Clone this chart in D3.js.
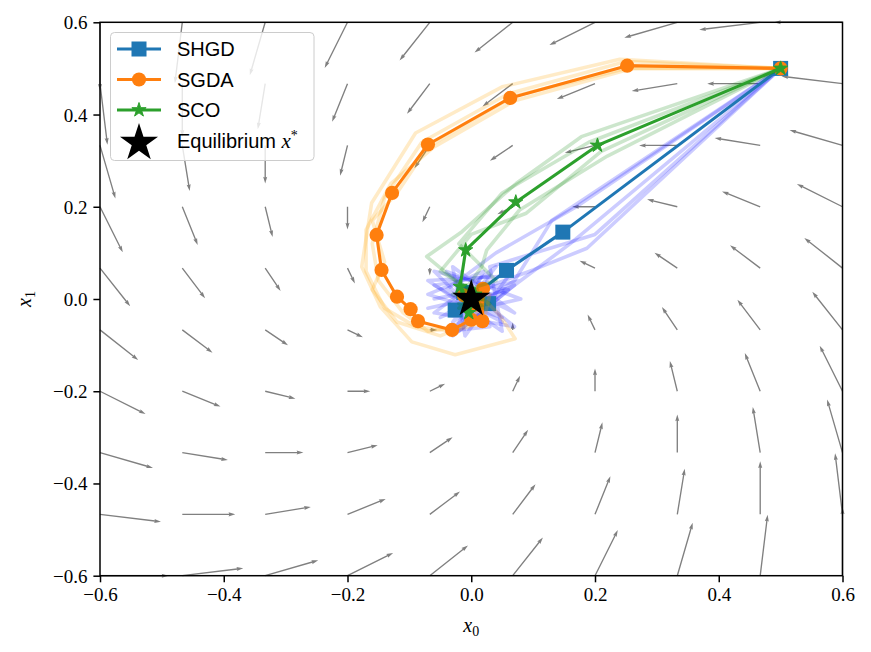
<!DOCTYPE html>
<html>
<head>
<meta charset="utf-8">
<script src="https://cdn.jsdelivr.net/npm/d3@7"></script>
<style>
  body { margin: 0; background: #fff; }
</style>
</head>
<body>
<div id="chart"></div>
<script>
// ---- data ----
var ticks = [-0.6, -0.4, -0.2, 0.0, 0.2, 0.4, 0.6];

// quiver grid (tails), 10 x 10
var gridX = [-0.6, -0.467, -0.333, -0.2, -0.067, 0.067, 0.2, 0.333, 0.467, 0.6];
var gridY = [-0.6, -0.467, -0.333, -0.2, -0.067, 0.067, 0.2, 0.333, 0.467, 0.6];

// field components, one row per gridY value (bottom to top), columns follow gridX
var fieldU = [
  [ 1.20,  1.07,  0.93,  0.80,  0.67,  0.53,  0.40,  0.27,  0.13,  0.00],
  [ 1.07,  0.93,  0.80,  0.67,  0.53,  0.40,  0.27,  0.13,  0.00, -0.13],
  [ 0.93,  0.80,  0.67,  0.53,  0.40,  0.27,  0.13,  0.00, -0.13, -0.27],
  [ 0.80,  0.67,  0.53,  0.40,  0.27,  0.13,  0.00, -0.13, -0.27, -0.40],
  [ 0.67,  0.53,  0.40,  0.27,  0.13,  0.00, -0.13, -0.27, -0.40, -0.53],
  [ 0.53,  0.40,  0.27,  0.13,  0.00, -0.13, -0.27, -0.40, -0.53, -0.67],
  [ 0.40,  0.27,  0.13,  0.00, -0.13, -0.27, -0.40, -0.53, -0.67, -0.80],
  [ 0.27,  0.13,  0.00, -0.13, -0.27, -0.40, -0.53, -0.67, -0.80, -0.93],
  [ 0.13,  0.00, -0.13, -0.27, -0.40, -0.53, -0.67, -0.80, -0.93, -1.07],
  [ 0.00, -0.13, -0.27, -0.40, -0.53, -0.67, -0.80, -0.93, -1.07, -1.20]
];
var fieldV = [
  [ 0.00,  0.13,  0.27,  0.40,  0.53,  0.67,  0.80,  0.93,  1.07,  1.20],
  [-0.13,  0.00,  0.13,  0.27,  0.40,  0.53,  0.67,  0.80,  0.93,  1.07],
  [-0.27, -0.13,  0.00,  0.13,  0.27,  0.40,  0.53,  0.67,  0.80,  0.93],
  [-0.40, -0.27, -0.13,  0.00,  0.13,  0.27,  0.40,  0.53,  0.67,  0.80],
  [-0.53, -0.40, -0.27, -0.13,  0.00,  0.13,  0.27,  0.40,  0.53,  0.67],
  [-0.67, -0.53, -0.40, -0.27, -0.13,  0.00,  0.13,  0.27,  0.40,  0.53],
  [-0.80, -0.67, -0.53, -0.40, -0.27, -0.13,  0.00,  0.13,  0.27,  0.40],
  [-0.93, -0.80, -0.67, -0.53, -0.40, -0.27, -0.13,  0.00,  0.13,  0.27],
  [-1.07, -0.93, -0.80, -0.67, -0.53, -0.40, -0.27, -0.13,  0.00,  0.13],
  [-1.20, -1.07, -0.93, -0.80, -0.67, -0.53, -0.40, -0.27, -0.13,  0.00]
];

// mean trajectories
var shgdMain = [[0.5, 0.5], [0.148, 0.145], [0.057, 0.062], [-0.026, -0.024], [0.028, -0.010],
  [-0.012, 0.014], [0.010, -0.008], [0.0, 0.0]];
var sgdaMain = [[0.5, 0.5], [0.252, 0.506], [0.063, 0.436], [-0.070, 0.335], [-0.128, 0.230],
  [-0.153, 0.139], [-0.145, 0.063], [-0.120, 0.005], [-0.098, -0.022], [-0.086, -0.048],
  [-0.031, -0.067], [0.000, -0.045], [0.018, -0.048], [0.019, 0.022], [-0.012, 0.008],
  [0.006, -0.012], [0.0, 0.0]];
var scoMain = [[0.5, 0.5], [0.204, 0.333], [0.072, 0.210], [-0.009, 0.106], [-0.018, 0.027],
  [-0.004, -0.030], [0.006, 0.010], [0.0, 0.0]];

// individual noisy runs
var shgdRuns = [
  [[0.5, 0.5], [0.17, 0.20], [0.04, 0.10], [-0.04, 0.02], [0.05, -0.05], [-0.06, 0.03], [0.03, 0.05], [-0.02, -0.07], [0.06, 0.02], [-0.07, -0.02], [0.0, 0.0]],
  [[0.5, 0.5], [0.187, 0.110], [0.100, 0.063], [0.041, 0.034], [-0.05, -0.04], [0.07, 0.03], [-0.03, -0.08], [0.02, 0.06], [-0.07, 0.01], [0.05, -0.04], [0.0, 0.0]],
  [[0.5, 0.5], [0.13, 0.17], [0.07, 0.04], [-0.03, -0.05], [0.04, 0.07], [-0.06, -0.03], [0.07, -0.06], [-0.04, 0.06], [0.08, 0.00], [-0.02, -0.03]],
  [[0.5, 0.5], [0.20, 0.14], [0.03, 0.07], [0.05, -0.07], [-0.07, 0.04], [0.06, 0.05], [-0.01, -0.08], [-0.03, 0.07], [0.07, -0.03], [0.01, 0.01]],
  [[0.5, 0.5], [0.16, 0.12], [0.06, 0.02], [-0.06, 0.06], [0.03, -0.06], [-0.04, -0.07], [0.08, 0.04], [-0.06, 0.00], [0.02, 0.02]]
];
var sgdaRuns = [
  [[0.5, 0.5], [0.24, 0.52], [0.05, 0.46], [-0.09, 0.36], [-0.161, 0.208], [-0.177, 0.070], [-0.147, -0.017], [-0.096, -0.093], [-0.026, -0.121], [0.071, -0.086], [0.046, -0.035], [0.02, 0.0], [0.0, -0.01]],
  [[0.5, 0.5], [0.26, 0.50], [0.07, 0.43], [-0.06, 0.33], [-0.13, 0.25], [-0.17, 0.15], [-0.17, 0.06], [-0.14, -0.02], [-0.09, -0.06], [-0.03, -0.07], [0.02, -0.05], [0.03, 0.01], [0.0, 0.0]],
  [[0.5, 0.5], [0.25, 0.515], [0.06, 0.445], [-0.08, 0.34], [-0.14, 0.22], [-0.16, 0.12], [-0.15, 0.04], [-0.11, -0.03], [-0.07, -0.07], [-0.02, -0.06], [0.01, -0.03], [0.0, 0.0]],
  [[0.5, 0.5], [0.25, 0.50], [0.07, 0.44], [-0.07, 0.33], [-0.12, 0.23], [-0.16, 0.17], [-0.14, 0.08], [-0.16, 0.02], [-0.12, -0.05], [-0.05, -0.08], [0.02, -0.04], [0.01, 0.01]]
];
var scoRuns = [
  [[0.5, 0.5], [0.178, 0.352], [0.073, 0.251], [-0.015, 0.146], [-0.072, 0.092], [-0.026, 0.041], [0.02, 0.0], [-0.02, -0.01], [0.01, 0.02], [0.0, 0.0]],
  [[0.5, 0.5], [0.22, 0.31], [0.078, 0.193], [0.025, 0.106], [0.017, 0.07], [-0.01, 0.02], [0.03, -0.01], [-0.01, -0.02], [0.0, 0.0]],
  [[0.5, 0.5], [0.19, 0.34], [0.05, 0.23], [-0.02, 0.12], [0.04, 0.04], [-0.03, 0.01], [0.02, -0.02], [0.0, 0.01]],
  [[0.5, 0.5], [0.21, 0.32], [0.089, 0.186], [0.00, 0.14], [-0.05, 0.06], [0.01, 0.01], [-0.02, -0.02], [0.02, 0.01], [0.0, 0.0]]
];

var equilibrium = [0.0, 0.0];

// ---- layout ----
var W = 871, H = 652;
var margin = { top: 22.3, right: 28.5, bottom: 76.3, left: 100 };
var width = W - margin.left - margin.right,
    height = H - margin.top - margin.bottom;

var svg = d3.select("#chart").append("svg")
    .attr("width", W)
    .attr("height", H);

var canvas = svg.append("g")
    .attr("transform", "translate(" + margin.left + "," + margin.top + ")");

var xScale = d3.scaleLinear().domain([-0.6, 0.6]).range([0, width]);
var yScale = d3.scaleLinear().domain([-0.6, 0.6]).range([height, 0]);
var arrowScale = d3.scaleLinear().domain([0, 1]).range([0, 57]);

var serif = "'Liberation Serif', 'DejaVu Serif', serif";
var sans = "'Liberation Sans', Arial, sans-serif";

// ---- quiver ----
function arrowPath(x0, y0, dx, dy) {
    var L = Math.hypot(dx, dy);
    if (L < 0.5) return "";
    var w = 1.35, hl = 5 * w, hal = 4.5 * w, hw = 3 * w;
    if (L < hl) { var s = L / hl; w *= s; hl *= s; hal *= s; hw *= s; }
    var ux = dx / L, uy = dy / L, nx = -uy, ny = ux;
    var pts = [[0, -w / 2], [L - hal, -w / 2], [L - hl, -hw / 2], [L, 0],
               [L - hl, hw / 2], [L - hal, w / 2], [0, w / 2]];
    return "M" + pts.map(function (p) {
        return (x0 + ux * p[0] + nx * p[1]).toFixed(2) + "," + (y0 + uy * p[0] + ny * p[1]).toFixed(2);
    }).join("L") + "Z";
}

var arrows = [];
gridY.forEach(function (gy, j) {
    gridX.forEach(function (gx, i) {
        arrows.push({ x: gx, y: gy, u: fieldU[j][i], v: fieldV[j][i] });
    });
});

canvas.append("g")
    .attr("class", "quiver")
    .selectAll("path")
    .data(arrows)
    .enter()
    .append("path")
    .attr("d", function (d) {
        return arrowPath(xScale(d.x), yScale(d.y), arrowScale(d.u), -arrowScale(d.v));
    })
    .attr("fill", "#808080");

// ---- trajectories ----
var line = d3.line()
    .x(function (d) { return xScale(d[0]); })
    .y(function (d) { return yScale(d[1]); });

function starPath(R) {
    var r = R * 0.381966, pts = [];
    for (var k = 0; k < 10; k++) {
        var a = -Math.PI / 2 + k * Math.PI / 5, rr = (k % 2 === 0) ? R : r;
        pts.push([rr * Math.cos(a), rr * Math.sin(a)]);
    }
    return "M" + pts.map(function (p) { return p[0].toFixed(2) + "," + p[1].toFixed(2); }).join("L") + "Z";
}

function drawRuns(runs, color, op) {
    canvas.append("g")
        .selectAll("path")
        .data(runs)
        .enter()
        .append("path")
        .attr("d", line)
        .attr("fill", "none")
        .attr("stroke", color)
        .attr("stroke-opacity", op)
        .attr("stroke-width", 3.6)
        .attr("stroke-linejoin", "round");
}

function drawMain(data, color, marker) {
    var g = canvas.append("g");
    g.append("path")
        .datum(data)
        .attr("d", line)
        .attr("fill", "none")
        .attr("stroke", color)
        .attr("stroke-width", 3.1)
        .attr("stroke-linejoin", "round");
    var m = g.selectAll(".mk")
        .data(data)
        .enter();
    if (marker === "square") {
        m.append("rect")
            .attr("x", function (d) { return xScale(d[0]) - 7.5; })
            .attr("y", function (d) { return yScale(d[1]) - 7.5; })
            .attr("width", 15).attr("height", 15)
            .attr("fill", color);
    } else if (marker === "circle") {
        m.append("circle")
            .attr("cx", function (d) { return xScale(d[0]); })
            .attr("cy", function (d) { return yScale(d[1]); })
            .attr("r", 7.1)
            .attr("fill", color);
    } else {
        m.append("path")
            .attr("d", starPath(7.5))
            .attr("transform", function (d) { return "translate(" + xScale(d[0]) + "," + yScale(d[1]) + ")"; })
            .attr("fill", color)
            .attr("stroke", color)
            .attr("stroke-width", 1);
    }
}

drawRuns(shgdRuns, "#0000ff", 0.2);
drawMain(shgdMain, "#1f77b4", "square");
drawRuns(sgdaRuns, "#ffa500", 0.22);
drawMain(sgdaMain, "#ff7f0e", "circle");
drawRuns(scoRuns, "#008000", 0.2);
drawMain(scoMain, "#2ca02c", "star");

canvas.append("path")
    .attr("d", starPath(20))
    .attr("transform", "translate(" + xScale(equilibrium[0]) + "," + yScale(equilibrium[1]) + ")")
    .attr("fill", "#000");

// ---- axes ----
var fmt = function (d) { return (d < 0 ? "\u2212" : "") + Math.abs(d).toFixed(1); };

var xAxis = canvas.append("g")
    .attr("transform", "translate(0," + height + ")")
    .call(d3.axisBottom(xScale).tickValues(ticks).tickFormat(fmt)
        .tickSize(6.6).tickSizeOuter(0).tickPadding(5));
var yAxis = canvas.append("g")
    .call(d3.axisLeft(yScale).tickValues(ticks).tickFormat(fmt)
        .tickSize(6.6).tickSizeOuter(0).tickPadding(6));

[xAxis, yAxis].forEach(function (ax) {
    ax.select(".domain").remove();
    ax.selectAll("line").attr("stroke", "#000").attr("stroke-width", 1.5);
    ax.selectAll("text").attr("font-family", serif).attr("font-size", 19).attr("fill", "#000");
});
yAxis.selectAll("text").attr("dy", "0.34em");

canvas.append("rect")
    .attr("width", width)
    .attr("height", height)
    .attr("fill", "none")
    .attr("stroke", "#000")
    .attr("stroke-width", 1.5);

// axis labels
var xl = svg.append("text")
    .attr("x", margin.left + width / 2)
    .attr("y", 632)
    .attr("text-anchor", "middle")
    .attr("font-family", serif)
    .attr("font-size", 20);
xl.append("tspan").attr("font-style", "italic").text("x");
xl.append("tspan").attr("font-size", 14).attr("dy", 4).text("0");

var yl = svg.append("text")
    .attr("transform", "translate(31," + (margin.top + height / 2) + ") rotate(-90)")
    .attr("text-anchor", "middle")
    .attr("font-family", serif)
    .attr("font-size", 20);
yl.append("tspan").attr("font-style", "italic").text("x");
yl.append("tspan").attr("font-size", 14).attr("dy", 4).text("1");

// ---- legend ----
var legend = svg.append("g").attr("class", "legend");
legend.append("rect")
    .attr("x", 110.5).attr("y", 32.5)
    .attr("width", 203.5).attr("height", 128)
    .attr("rx", 4).attr("ry", 4)
    .attr("fill", "#fff").attr("fill-opacity", 0.8)
    .attr("stroke", "#cccccc").attr("stroke-width", 1);

var legendItems = [
    { label: "SHGD", color: "#1f77b4", marker: "square", y: 49 },
    { label: "SGDA", color: "#ff7f0e", marker: "circle", y: 79.5 },
    { label: "SCO", color: "#2ca02c", marker: "star", y: 110 },
    { label: "Equilibrium", color: "#000", marker: "bigstar", y: 141 }
];
legendItems.forEach(function (it) {
    var g = legend.append("g").attr("transform", "translate(139," + it.y + ")");
    if (it.marker !== "bigstar") {
        g.append("line").attr("x1", -22).attr("x2", 22)
            .attr("stroke", it.color).attr("stroke-width", 3.1);
    }
    if (it.marker === "square") {
        g.append("rect").attr("x", -7.5).attr("y", -7.5).attr("width", 15).attr("height", 15).attr("fill", it.color);
    } else if (it.marker === "circle") {
        g.append("circle").attr("r", 7.1).attr("fill", it.color);
    } else if (it.marker === "star") {
        g.append("path").attr("d", starPath(7.5)).attr("fill", it.color).attr("stroke", it.color).attr("stroke-width", 1);
    } else {
        g.append("path").attr("d", starPath(20)).attr("transform", "translate(0,2)").attr("fill", it.color);
    }
    var t = legend.append("text")
        .attr("x", 177).attr("y", it.y + 7)
        .attr("font-family", sans).attr("font-size", 20).attr("fill", "#000")
        .text(it.label);
    if (it.marker === "bigstar") {
        t.append("tspan").text(" ");
        t.append("tspan").attr("font-family", serif).attr("font-style", "italic").attr("font-size", 21).text("x");
        t.append("tspan").attr("font-family", serif).attr("font-size", 14).attr("dy", -8).text("*");
    }
});
</script>
</body>
</html>
